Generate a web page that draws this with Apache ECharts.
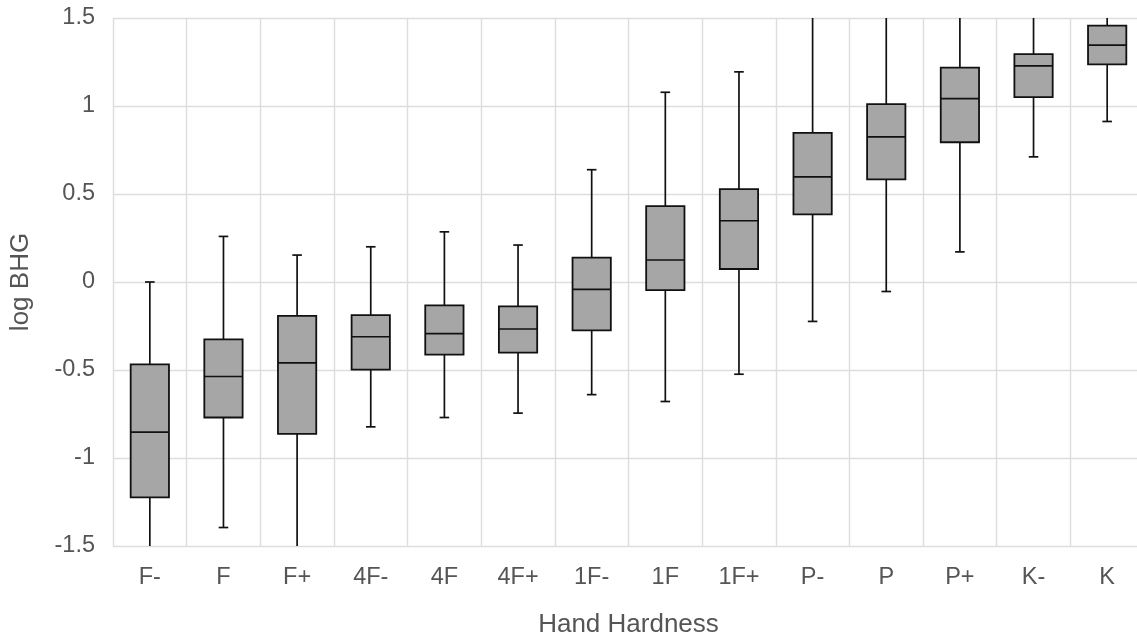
<!DOCTYPE html>
<html>
<head>
<meta charset="utf-8">
<script src="https://cdn.jsdelivr.net/npm/echarts@6/dist/echarts.min.js"></script>
<style>
  html, body { margin: 0; padding: 0; background: #ffffff; }
  #chart { width: 1137px; height: 640px; }
</style>
</head>
<body>
<div id="chart"></div>
<script>
const categories = ['F-', 'F', 'F+', '4F-', '4F', '4F+', '1F-', '1F', '1F+', 'P-', 'P', 'P+', 'K-', 'K'];
const whiskerLow  = [-1.52, -1.395, -1.56, -0.823, -0.770, -0.745, -0.640, -0.679, -0.524, -0.224, -0.054, 0.171, 0.711, 0.912];
const q1          = [-1.224, -0.770, -0.863, -0.498, -0.413, -0.401, -0.275, -0.046, 0.074, 0.384, 0.583, 0.794, 1.050, 1.236];
const median      = [-0.853, -0.537, -0.459, -0.311, -0.293, -0.267, -0.042, 0.125, 0.348, 0.597, 0.825, 1.042, 1.228, 1.346];
const q3          = [-0.468, -0.326, -0.192, -0.188, -0.133, -0.139, 0.139, 0.431, 0.528, 0.847, 1.011, 1.218, 1.295, 1.457];
const whiskerHigh = [0.000, 0.259, 0.153, 0.200, 0.285, 0.210, 0.638, 1.078, 1.194, 1.514, 1.62, 1.65, 1.62, 1.62];
const yTicks = [-1.5, -1, -0.5, 0, 0.5, 1, 1.5];

const seriesData = categories.map((c, i) => [i, whiskerLow[i], q1[i], median[i], q3[i], whiskerHigh[i]]);

const FONT = 'Liberation Sans, Arial, sans-serif';
const LINE = '#111111';

function renderItem(params, api) {
  const x = api.value(0);
  const lo = api.value(1), a = api.value(2), m = api.value(3), b = api.value(4), hi = api.value(5);
  const band = api.size([1, 0])[0];
  const bw = band * 0.52;
  const cw = band * 0.13;
  const pLo = api.coord([x, lo]);
  const pQ1 = api.coord([x, a]);
  const pM = api.coord([x, m]);
  const pQ3 = api.coord([x, b]);
  const pHi = api.coord([x, hi]);
  const cx = pM[0];
  const lineStyle = { stroke: LINE, lineWidth: 1.7, fill: null };
  return {
    type: 'group',
    children: [
      { type: 'line', shape: { x1: cx, y1: pQ3[1], x2: cx, y2: pHi[1] }, style: lineStyle },
      { type: 'line', shape: { x1: cx, y1: pQ1[1], x2: cx, y2: pLo[1] }, style: lineStyle },
      { type: 'line', shape: { x1: cx - cw / 2, y1: pHi[1], x2: cx + cw / 2, y2: pHi[1] }, style: lineStyle },
      { type: 'line', shape: { x1: cx - cw / 2, y1: pLo[1], x2: cx + cw / 2, y2: pLo[1] }, style: lineStyle },
      { type: 'rect', shape: { x: cx - bw / 2, y: pQ3[1], width: bw, height: pQ1[1] - pQ3[1] },
        style: { fill: '#a6a6a6', stroke: LINE, lineWidth: 1.8 } },
      { type: 'line', shape: { x1: cx - bw / 2, y1: pM[1], x2: cx + bw / 2, y2: pM[1] }, style: lineStyle }
    ]
  };
}

const chart = echarts.init(document.getElementById('chart'), null, { renderer: 'canvas' });
chart.setOption({
  backgroundColor: '#ffffff',
  animation: false,
  grid: { left: 113, right: -7, top: 18, bottom: 94, containLabel: false, outerBoundsMode: 'none' },
  xAxis: {
    type: 'category',
    data: categories,
    boundaryGap: true,
    name: 'Hand Hardness',
    nameLocation: 'middle',
    nameGap: 66,
    nameTextStyle: { color: '#555555', fontSize: 26, fontFamily: FONT },
    axisLine: { show: false },
    axisTick: { show: false },
    axisLabel: { color: '#555555', fontSize: 23.5, fontFamily: FONT, margin: 20, interval: 0 },
    splitLine: { show: true, showMinLine: true, showMaxLine: true, lineStyle: { color: '#dddddd', width: 1.4 } }
  },
  yAxis: {
    type: 'value',
    min: -1.5,
    max: 1.5,
    interval: 0.5,
    name: 'log BHG',
    nameLocation: 'middle',
    nameGap: 79,
    nameRotate: 90,
    nameTextStyle: { color: '#555555', fontSize: 26, fontFamily: FONT },
    axisLine: { show: false },
    axisTick: { show: false },
    axisLabel: {
      color: '#555555', fontSize: 23.5, fontFamily: FONT, margin: 18,
      formatter: v => (yTicks.includes(v) ? String(v) : '')
    },
    splitLine: { show: true, showMinLine: true, showMaxLine: true, lineStyle: { color: '#dddddd', width: 1.4 } }
  },
  series: [{
    type: 'custom',
    clip: true,
    renderItem: renderItem,
    encode: { x: 0, y: [1, 2, 3, 4, 5] },
    data: seriesData
  }]
});
</script>
</body>
</html>
